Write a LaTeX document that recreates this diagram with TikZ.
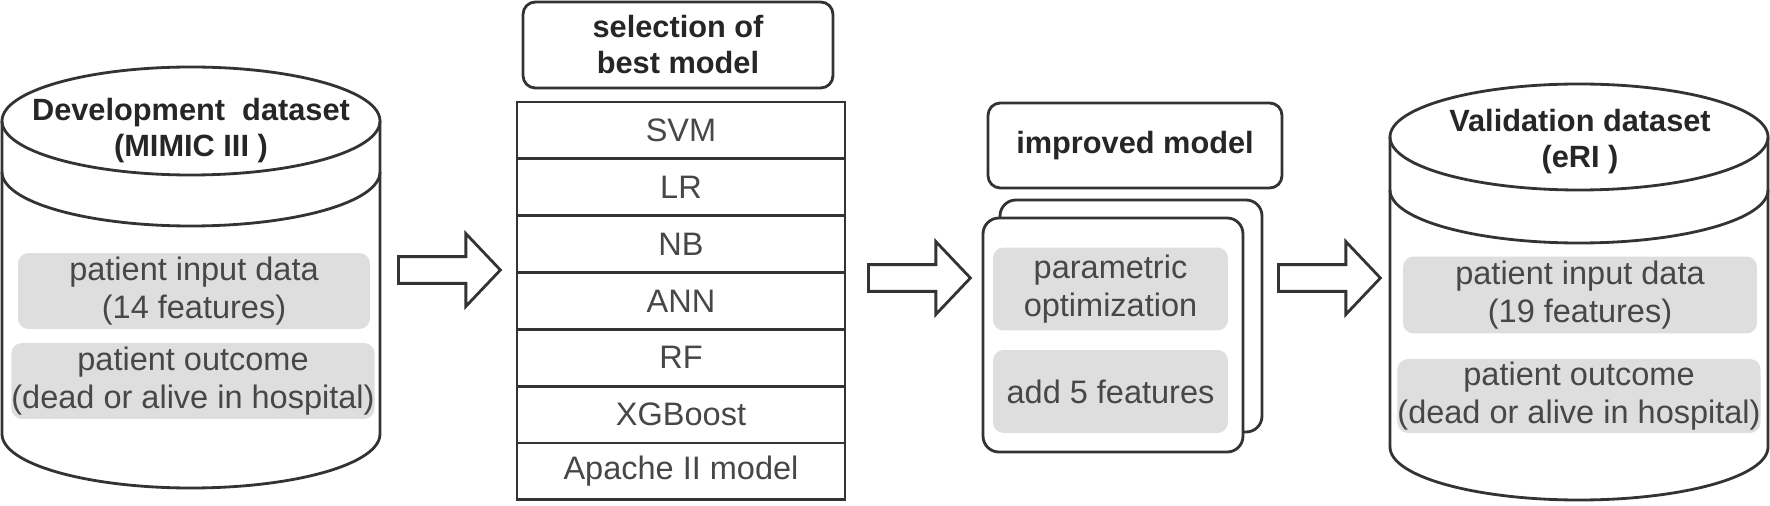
\documentclass[tikz,border=0pt]{standalone}
\usepackage{fontspec}
\setmainfont{Liberation Sans}
\usetikzlibrary{positioning,shapes.arrows}

\tikzset{
  outline/.style={draw=black!80, line width=1.6pt},
  plain/.style={text=black!72, font=\fontsize{18.5}{21.5}\selectfont},
  graybox/.style={plain, fill=black!13, rounded corners=6pt, align=center, inner sep=0pt},
  headline/.style={text=black!85, font=\bfseries\fontsize{17.5}{20.5}\selectfont, align=center},
  titlebox/.style={outline, headline, rounded corners=7pt, inner sep=0pt},
  modelrow/.style={outline, plain, minimum width=6.56cm, minimum height=1.137cm, outer sep=0pt, inner sep=0pt},
  card/.style={outline, fill=white, rounded corners=9pt},
  blockarrow/.style={single arrow, outline, fill=white, inner sep=0pt, inner ysep=0.24cm,
    single arrow head extend=0.46cm, single arrow tip angle=93, minimum height=2.04cm}
}

\begin{document}
\begin{tikzpicture}[x=0.02cm,y=-0.02cm]
\useasboundingbox (0,0) rectangle (1770,506);

% development dataset
\draw[outline] (191,121) ellipse [x radius=189, y radius=54];
\draw[outline] (2,121) -- (2,434) arc[start angle=180, end angle=0, x radius=189, y radius=54] -- (380,121);
\draw[outline] (2,172) arc[start angle=180, end angle=0, x radius=189, y radius=54];
\node[headline] (devtitle) at (191,131) {Development~~dataset\\(MIMIC III )};
\node[graybox, minimum width=7.04cm, minimum height=1.52cm] (devin) at (194,291) {patient input data\\(14 features)};
\node[graybox, minimum width=7.2cm, minimum height=1.52cm] (devout) at (193,381) {patient outcome\\(dead or alive in hospital)};

% candidate models
\node[titlebox, minimum width=6.2cm, minimum height=1.72cm] (select) at (678,45) {selection of\\best model};
\node[modelrow] (m1) at (681,130.4) {SVM};
\node[modelrow, below=0pt of m1] (m2) {LR};
\node[modelrow, below=0pt of m2] (m3) {NB};
\node[modelrow, below=0pt of m3] (m4) {ANN};
\node[modelrow, below=0pt of m4] (m5) {RF};
\node[modelrow, below=0pt of m5] (m6) {XGBoost};
\node[modelrow, below=0pt of m6] (m7) {Apache II model};

% improved model
\node[titlebox, minimum width=5.88cm, minimum height=1.7cm] (improved) at (1135,145.5) {improved model};
\node[card, minimum width=5.24cm, minimum height=4.64cm] (back) at (1131,316) {};
\node[card, minimum width=5.2cm, minimum height=4.68cm] (front) at (1113,335) {};
\node[graybox, minimum width=4.7cm, minimum height=1.66cm] (param) at (1110.5,289) {parametric\\optimization};
\node[graybox, minimum width=4.7cm, minimum height=1.66cm] (addfeat) at (1110.5,391.5) {add 5 features};

% validation dataset
\draw[outline] (1579,137) ellipse [x radius=189, y radius=53];
\draw[outline] (1390,137) -- (1390,447) arc[start angle=180, end angle=0, x radius=189, y radius=53] -- (1768,137);
\draw[outline] (1390,190) arc[start angle=180, end angle=0, x radius=189, y radius=53];
\node[headline] (valtitle) at (1580,142) {Validation dataset\\(eRI )};
\node[graybox, minimum width=7.08cm, minimum height=1.54cm] (valin) at (1580,295) {patient input data\\(19 features)};
\node[graybox, minimum width=7.24cm, minimum height=1.48cm] (valout) at (1579,396) {patient outcome\\(dead or alive in hospital)};

% flow
\node[blockarrow, anchor=tail] (arr1) at (397,270) {};
\node[blockarrow, anchor=tail] (arr2) at (867,278) {};
\node[blockarrow, anchor=tail] (arr3) at (1277,278) {};
\end{tikzpicture}
\end{document}
